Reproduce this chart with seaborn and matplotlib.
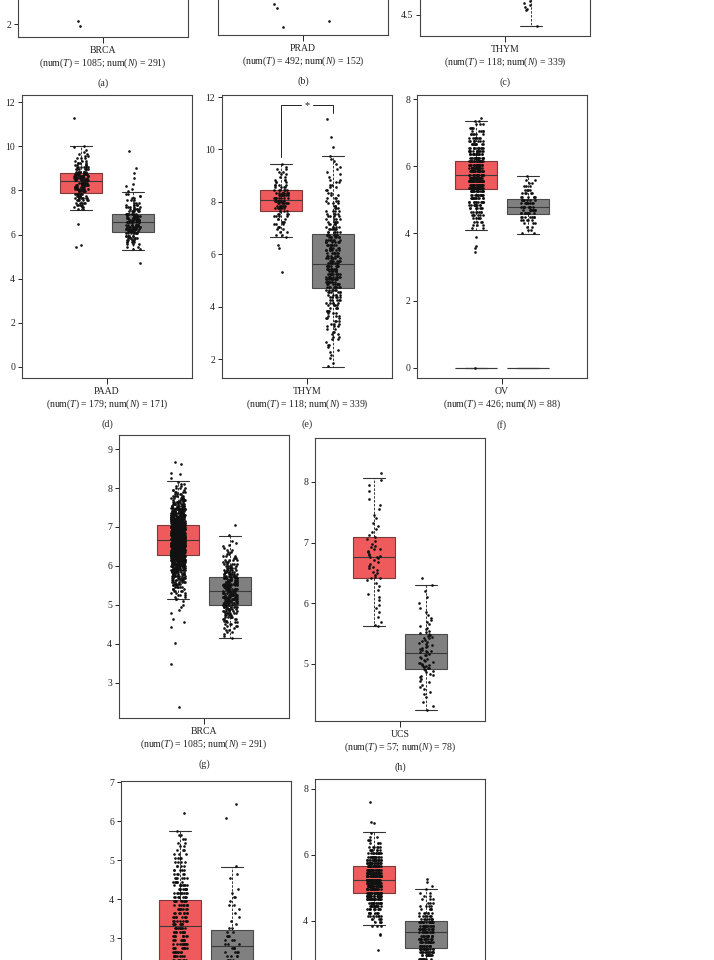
import numpy as np
import pandas as pd
import matplotlib
matplotlib.use("Agg")
import matplotlib.pyplot as plt
import seaborn as sns

# ---- data ----
# box stats are [whisker low, q1, median, q3, whisker high]
# dense point clouds are given as counts per value bin (start centre, step, counts)

# (a) BRCA - only the lowest tumour points are on the page
brca_a_t_extra = [2.12, 1.92]
# (b) PRAD
prad_t_extra = [1.10, 0.95, 0.28]
prad_n_extra = [0.49]
# (c) THYM
thym_c_stats_n = [4.225, 5.3, 5.7, 6.1, 7.2]
thym_c_n_extra = [4.23, 4.62, 4.66, 4.70, 4.75, 4.80, 4.86]

# (d) PAAD
paad_stats_t = [7.11, 7.89, 8.41, 8.80, 10.02]
paad_stats_n = [5.30, 6.13, 6.55, 6.94, 7.91]
paad_t_counts = [2, 3, 4, 5, 6, 7, 7, 8, 9, 9, 9, 9, 9, 11, 12, 11, 11,
                 8, 7, 6, 5, 4, 3, 3, 2, 2, 1, 1, 1]
paad_t_extra = [11.29, 10.0, 6.48, 5.52, 5.45]
paad_n_counts = [2, 2, 3, 4, 5, 6, 7, 7, 8, 9, 10, 10, 11, 11, 11, 10, 9,
                 7, 6, 5, 4, 3, 3, 2, 2, 2, 1]
paad_n_extra = [9.78, 9.0, 8.8, 8.55, 8.3, 8.2, 8.05, 4.72]

# (e) THYM
thym_stats_t = [6.64, 7.67, 8.07, 8.44, 9.45]
thym_stats_n = [1.68, 4.71, 5.63, 6.76, 9.75]
thym_t_counts = [1, 2, 2, 2, 3, 3, 3, 3, 4, 4, 4, 7, 8, 8, 8, 8, 8, 8, 6,
                 4, 4, 3, 3, 2, 2, 2, 2, 1, 1]
thym_t_extra = [6.35, 6.22, 5.31]
thym_n_counts = [1, 1, 0, 1, 1, 1, 1, 1, 2, 1, 2, 2, 2, 2, 2, 3, 3, 3, 3, 3,
                 3, 4, 4, 4, 5, 5, 5, 5, 6, 6, 9, 9, 9, 10, 10, 10, 9, 9, 9,
                 7, 7, 7, 7, 7, 7, 7, 7, 7, 7, 7, 7, 6, 6, 5, 5, 5, 4, 4, 4,
                 4, 3, 3, 3, 3, 3, 2, 2, 2, 2, 2, 2, 2, 1, 1, 1, 1, 1, 1, 1,
                 1, 1]
thym_n_extra = [11.15, 10.46, 10.1]
thym_sig = [9.72, 11.68, 11.38]  # left leg end, bracket level, right leg end

# (f) OV
ov_stats_t = [4.11, 5.32, 5.74, 6.16, 7.34]
ov_stats_n = [3.97, 4.58, 4.78, 5.04, 5.71]
ov_stats_zero = [0.0, 0.0, 0.0, 0.0, 0.0]
ov_t_counts = [2, 3, 4, 5, 6, 7, 8, 10, 12, 14, 17, 18, 26, 27, 27, 26,
               22, 22, 21, 21, 20, 18, 15, 13, 11, 9, 8, 7, 6, 5, 4, 3, 2]
ov_t_extra = [7.44, 3.9, 3.64, 3.56, 3.44, 0.0]
ov_n_counts = [2, 2, 2, 3, 5, 7, 8, 10, 10, 9, 7, 6, 5, 4, 3, 2, 2, 1]

# (g) BRCA
brca_stats_t = [5.16, 6.28, 6.66, 7.04, 8.18]
brca_stats_n = [4.16, 5.01, 5.37, 5.72, 6.78]
brca_t_counts = [2, 2, 3, 3, 4, 4, 5, 5, 6, 7, 8, 9, 10, 11, 12, 14, 15, 17,
                 19, 21, 24, 26, 29, 32, 33, 34, 35, 35, 35, 34, 33, 38, 38,
                 39, 39, 39, 39, 38, 30, 27, 25, 23, 21, 19, 17, 15, 13, 12,
                 10, 9, 8, 7, 6, 5, 4, 4, 3, 3, 2, 2, 1]
brca_t_extra = [8.67, 8.62, 8.38, 8.35, 8.25, 5.1, 5.0, 4.95, 4.87, 4.8,
                4.63, 4.55, 4.44, 4.02, 3.48, 2.37]
brca_n_counts = [1, 1, 1, 2, 2, 2, 3, 3, 3, 4, 4, 5, 5, 6, 6, 7, 8, 9, 10, 10,
                 11, 11, 11, 10, 10, 11, 11, 11, 10, 10, 10, 10, 9, 8, 7, 6,
                 6, 5, 5, 4, 4, 3, 3, 2, 2, 2, 1, 1, 1, 1, 1, 0, 0, 1]
brca_n_extra = [7.06]

# (h) UCS
ucs_stats_t = [5.63, 6.42, 6.77, 7.09, 8.06]
ucs_stats_n = [4.24, 4.92, 5.18, 5.49, 6.31]
ucs_t_values = [8.15, 8.04, 7.95, 7.85, 7.72, 7.62, 7.55, 7.45, 7.40, 7.32,
                7.28, 7.22, 7.18, 7.12, 7.10, 7.06, 7.02, 6.98, 6.95, 6.92,
                6.90, 6.90, 6.87, 6.84, 6.82, 6.80, 6.78, 6.77, 6.76, 6.74,
                6.71, 6.68, 6.65, 6.62, 6.60, 6.58, 6.55, 6.52, 6.50, 6.47,
                6.44, 6.42, 6.41, 6.38, 6.33, 6.28, 6.22, 6.15, 6.10, 6.05,
                5.98, 5.92, 5.85, 5.78, 5.70, 5.65, 5.63]
ucs_n_values = [6.42, 6.30, 6.20, 6.10, 6.00, 5.92, 5.85, 5.80, 5.76, 5.72,
                5.69, 5.66, 5.63, 5.60, 5.58, 5.55, 5.53, 5.51, 5.50, 5.48,
                5.46, 5.45, 5.43, 5.42, 5.40, 5.38, 5.37, 5.35, 5.33, 5.32,
                5.30, 5.28, 5.27, 5.25, 5.23, 5.22, 5.21, 5.20, 5.19, 5.17,
                5.15, 5.14, 5.12, 5.10, 5.09, 5.07, 5.05, 5.04, 5.02, 5.01,
                5.00, 4.99, 4.98, 4.97, 4.96, 4.95, 4.94, 4.93, 4.92, 4.90,
                4.88, 4.86, 4.84, 4.82, 4.80, 4.78, 4.75, 4.72, 4.70, 4.66,
                4.62, 4.58, 4.54, 4.50, 4.45, 4.38, 4.30, 4.24]

# (i) and (j) - cut off at the bottom of the page
i_stats_t = [1.0, 2.3, 3.30, 3.97, 5.74]
i_stats_n = [1.0, 2.3, 2.79, 3.20, 4.82]
i_t_counts = [8, 8, 8, 8, 8, 9, 9, 10, 10, 10, 9, 9, 9, 8, 8, 8, 8, 8, 8, 9,
              9, 9, 9, 8, 7, 6, 5, 5, 4, 4, 4, 3, 3, 2, 2, 2, 2, 1]
i_t_extra = [6.21]
i_n_counts = [4, 4, 4, 4, 4, 4, 4, 4, 3, 3, 3, 2, 2, 1, 1, 1, 1, 1, 2, 1, 2,
              1, 1, 0, 0, 1, 1, 0, 1]
i_n_extra = [6.45, 6.08]
j_stats_t = [3.86, 4.85, 5.23, 5.67, 6.68]
j_stats_n = [2.3, 3.19, 3.66, 3.98, 4.98]
j_t_counts = [3, 4, 5, 7, 9, 11, 14, 17, 22, 28, 30, 30, 30, 30, 30, 30, 30,
              30, 26, 22, 18, 14, 11, 8, 6, 4, 3, 2, 1]
j_t_extra = [7.59, 7.01, 6.98, 3.6, 3.58, 3.12]
j_n_counts = [10, 12, 14, 16, 13, 13, 13, 13, 13, 18, 18, 17, 8, 7, 6, 5, 4,
              3, 3, 2, 2, 1, 1]
j_n_extra = [5.26, 5.18]

TUMOR = "#EF5A5C"
NORMAL = "#808080"
W, H = 714, 960


def expand(start, step, counts, extra=()):
    centers = start + step * np.arange(len(counts))
    return np.concatenate([np.repeat(centers, counts), np.asarray(extra, float)])


def add_ax(fig, left, top, width=170, height=283):
    return fig.add_axes([left / W, 1 - (top + height) / H, width / W, height / H])


def draw_boxes(ax, stats_list, positions, colors, edge):
    stats = [dict(whislo=s[0], q1=s[1], med=s[2], q3=s[3], whishi=s[4], fliers=[])
             for s in stats_list]
    bp = ax.bxp(stats, positions=positions, widths=0.8, capwidths=0.42,
                patch_artist=True, showfliers=False, manage_ticks=False,
                boxprops=dict(linewidth=0.8),
                whiskerprops=dict(color="#333333", linewidth=0.7, linestyle=(0, (2.5, 1.5))),
                capprops=dict(color="#333333", linewidth=0.8),
                medianprops=dict(color="#3a3a3a", linewidth=0.8),
                zorder=2)
    for patch, c, e in zip(bp["boxes"], colors, edge):
        patch.set_facecolor(c)
        patch.set_edgecolor(e)


def draw_points(ax, tumor_vals, normal_vals):
    df = pd.DataFrame({
        "pos": [-0.5] * len(tumor_vals) + [0.5] * len(normal_vals),
        "value": list(tumor_vals) + list(normal_vals),
    })
    sns.stripplot(data=df, x="pos", y="value", native_scale=True, jitter=0.14,
                  size=1.9, color="#111111", linewidth=0, ax=ax, zorder=3)


def finish(ax, ylim, yticks, label, tag, fmt="{:g}"):
    ax.set_xlim(-1.63, 1.63)
    ax.set_ylim(*ylim)
    ax.set_yticks(yticks)
    ax.set_yticklabels([fmt.format(v) for v in yticks])
    ax.set_xticks([0])
    ax.set_xticklabels([label], linespacing=1.2)
    ax.set_xlabel(tag, labelpad=6, fontsize=7.2)
    ax.set_ylabel("")
    ax.tick_params(axis="y", length=3, width=0.7, pad=2, labelsize=7, colors="#222222")
    ax.tick_params(axis="x", length=4, width=0.7, pad=2.5, labelsize=7, colors="#222222")
    for sp in ax.spines.values():
        sp.set_visible(True)
        sp.set_color("#444444")
        sp.set_linewidth(0.8)


def num_label(name, nt, nn):
    return f"{name}\n(num($T$) = {nt}; num($N$) = {nn})"


sns.set_theme(style="ticks")
plt.rcParams["font.family"] = ["Liberation Serif", "DejaVu Serif"]
plt.rcParams["mathtext.fontset"] = "custom"
plt.rcParams["mathtext.rm"] = "Liberation Serif"
plt.rcParams["mathtext.it"] = "Liberation Serif:italic"
np.random.seed(3)

fig = plt.figure(figsize=(W / 100, H / 100), dpi=100)
fig.patch.set_facecolor("white")

red_edge, grey_edge = "#7a3a3a", "#4a4a4a"

# ---- row 1 (cut off at the top, only visible ticks kept) ----
ax = add_ax(fig, 18, -246)
draw_points(ax, brca_a_t_extra, [])
finish(ax, (1.48, 12.8), [2], num_label("BRCA", 1085, 291), "(a)")

ax = add_ax(fig, 218, -248)
draw_points(ax, prad_t_extra, prad_n_extra)
finish(ax, (0, 10), [], num_label("PRAD", 492, 152), "(b)")

ax = add_ax(fig, 420, -247)
draw_boxes(ax, [thym_c_stats_n], [0.5], [NORMAL], [grey_edge])
draw_points(ax, [], thym_c_n_extra)
finish(ax, (3.975, 11.05), [4.5], num_label("THYM", 118, 339), "(c)", fmt="{:.1f}")

# ---- row 2 ----
ax = add_ax(fig, 22, 95)
draw_boxes(ax, [paad_stats_t, paad_stats_n], [-0.5, 0.5], [TUMOR, NORMAL], [red_edge, grey_edge])
draw_points(ax, expand(7.15, 0.1, paad_t_counts, paad_t_extra),
            expand(5.35, 0.1, paad_n_counts, paad_n_extra))
finish(ax, (-0.5, 12.32), [0, 2, 4, 6, 8, 10, 12], num_label("PAAD", 179, 171), "(d)")

ax = add_ax(fig, 222, 95)
draw_boxes(ax, [thym_stats_t, thym_stats_n], [-0.5, 0.5], [TUMOR, NORMAL], [red_edge, grey_edge])
draw_points(ax, expand(6.65, 0.1, thym_t_counts, thym_t_extra),
            expand(1.75, 0.1, thym_n_counts, thym_n_extra))
ax.plot([-0.5, -0.5, -0.12], [thym_sig[0], thym_sig[1], thym_sig[1]], color="#222222", lw=0.7)
ax.plot([0.12, 0.5, 0.5], [thym_sig[1], thym_sig[1], thym_sig[2]], color="#222222", lw=0.7)
ax.text(0, thym_sig[1], "*", ha="center", va="center", fontsize=7.5)
finish(ax, (1.275, 12.08), [2, 4, 6, 8, 10, 12], num_label("THYM", 118, 339), "(e)")

ax = add_ax(fig, 417, 95)
draw_boxes(ax, [ov_stats_zero, ov_stats_zero], [-0.5, 0.5], ["none", "none"], ["#9a9a9a", "#9a9a9a"])
draw_boxes(ax, [ov_stats_t, ov_stats_n], [-0.5, 0.5], [TUMOR, NORMAL], [red_edge, grey_edge])
draw_points(ax, expand(4.15, 0.1, ov_t_counts, ov_t_extra),
            expand(4.0, 0.1, ov_n_counts))
finish(ax, (-0.3, 8.12), [0, 2, 4, 6, 8], num_label("OV", 426, 88), "(f)")

# ---- row 3 ----
ax = add_ax(fig, 119, 435)
draw_boxes(ax, [brca_stats_t, brca_stats_n], [-0.5, 0.5], [TUMOR, NORMAL], [red_edge, grey_edge])
draw_points(ax, expand(5.15, 0.05, brca_t_counts, brca_t_extra),
            expand(4.15, 0.05, brca_n_counts, brca_n_extra))
finish(ax, (2.1, 9.36), [3, 4, 5, 6, 7, 8, 9], num_label("BRCA", 1085, 291), "(g)")

ax = add_ax(fig, 315, 438)
draw_boxes(ax, [ucs_stats_t, ucs_stats_n], [-0.5, 0.5], [TUMOR, NORMAL], [red_edge, grey_edge])
draw_points(ax, ucs_t_values, ucs_n_values)
finish(ax, (4.06, 8.725), [5, 6, 7, 8], num_label("UCS", 57, 78), "(h)")

# ---- row 4 (cut off at the bottom) ----
ax = add_ax(fig, 121, 781)
draw_boxes(ax, [i_stats_t, i_stats_n], [-0.5, 0.5], [TUMOR, NORMAL], [red_edge, grey_edge])
draw_points(ax, expand(2.05, 0.1, i_t_counts, i_t_extra),
            expand(2.05, 0.1, i_n_counts, i_n_extra))
finish(ax, (-0.23, 7.03), [3, 4, 5, 6, 7], "", "")

ax = add_ax(fig, 315, 779)
draw_boxes(ax, [j_stats_t, j_stats_n], [-0.5, 0.5], [TUMOR, NORMAL], [red_edge, grey_edge])
draw_points(ax, expand(3.85, 0.1, j_t_counts, j_t_extra),
            expand(2.85, 0.1, j_n_counts, j_n_extra))
finish(ax, (-0.28, 8.30), [4, 6, 8], "", "")

fig.savefig("out.png", dpi=100)
plt.close(fig)
